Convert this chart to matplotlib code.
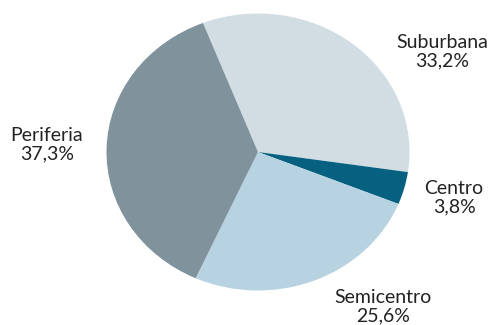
import matplotlib.pyplot as plt

zonas = ['Suburbana', 'Centro', 'Semicentro', 'Periferia']
porcentajes = [33.2, 3.8, 25.6, 37.3]
etiquetas = ['33,2%', '3,8%', '25,6%', '37,3%']
colores = ['#d1dce3', '#05617f', '#b7d2e0', '#80939d']

# posicion de cada etiqueta en pixeles (centro del texto)
pos_etiquetas = [(442, 52), (454, 198), (383, 307), (47, 145)]

W, H = 493, 325
fig = plt.figure(figsize=(W / 100, H / 100), dpi=100)
ax = fig.add_axes([0, 0, 1, 1])

# centro y radios de la tarta en pixeles
cx, cy, rx, ry = 258, 152, 151.5, 138.5

ax.pie(porcentajes, colors=colores, startangle=111.3, counterclock=False,
       radius=1, wedgeprops=dict(linewidth=0))
ax.set_aspect('auto')
ax.set_xlim((0 - cx) / rx, (W - cx) / rx)
ax.set_ylim((cy - H) / ry, cy / ry)
ax.axis('off')

for zona, txt, (px, py) in zip(zonas, etiquetas, pos_etiquetas):
    fig.text(px / W, 1 - py / H, zona + '\n' + txt, ha='center', va='center',
             fontsize=14, family='Lato', color='#222222', linespacing=1.1)

fig.savefig('out.png', dpi=100)
